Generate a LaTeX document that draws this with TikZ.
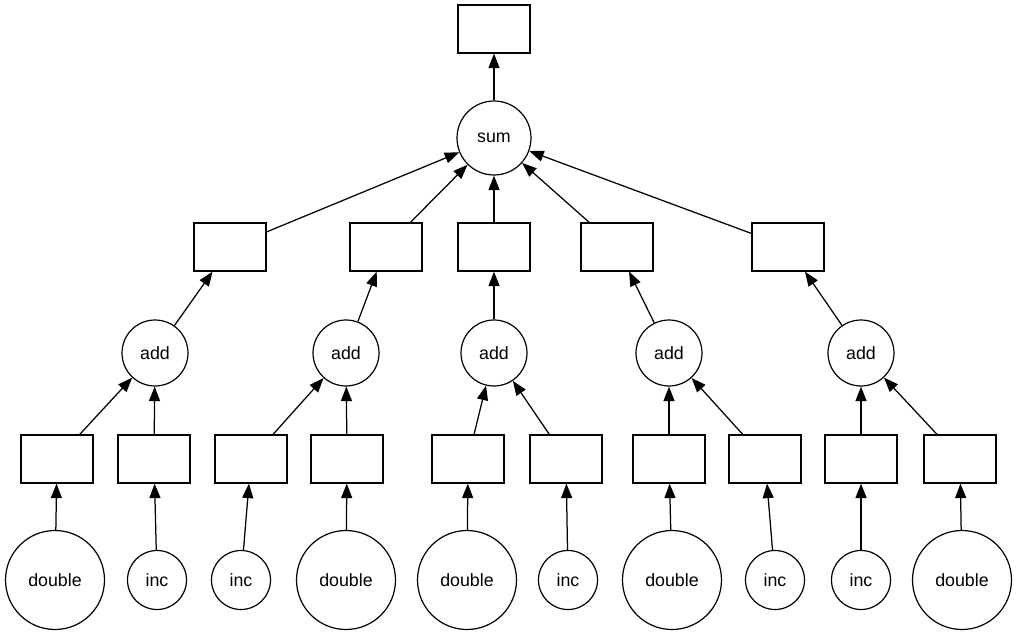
\documentclass[tikz,border=0pt]{standalone}
\usepackage{fontspec}
\setmainfont{Liberation Sans}
\usetikzlibrary{arrows.meta}
\tikzset{
  bx/.style={rectangle,draw=black,fill=white,minimum width=72pt,minimum height=48pt,inner sep=0pt,line width=1.2pt},
  fn/.style={circle,draw=black,fill=white,inner sep=0pt,line width=1.2pt,font=\fontsize{17.8}{21}\selectfont},
  big/.style={fn,minimum size=99pt},
  sml/.style={fn,minimum size=59pt},
  mid/.style={fn,minimum size=66pt},
  top/.style={fn,minimum size=74pt},
  dep/.style={-{Triangle[length=14.5pt,width=11pt]},line width=1.25pt,draw=black},
}
\begin{document}
\begin{tikzpicture}[x=1pt,y=-1pt]
\useasboundingbox (0,0) rectangle (1017,636);
% result and reduction
\node[bx] (out) at (494,29) {};
\node[top] (sum) at (494,138) {sum};
% partial sums
\node[bx] (r1) at (230,247) {}; \node[bx] (r2) at (386,247) {};
\node[bx] (r3) at (494,247) {}; \node[bx] (r4) at (617,247) {};
\node[bx] (r5) at (788,247) {};
\node[mid] (a1) at (155,353) {add}; \node[mid] (a2) at (346,353) {add};
\node[mid] (a3) at (494,353) {add}; \node[mid] (a4) at (669,353) {add};
\node[mid] (a5) at (861,353) {add};
% intermediate results
\node[bx] (b1) at (57,459) {};  \node[bx] (b2) at (154,459) {};
\node[bx] (b3) at (251,459) {}; \node[bx] (b4) at (347,459) {};
\node[bx] (b5) at (468,459) {}; \node[bx] (b6) at (566,459) {};
\node[bx] (b7) at (669,459) {}; \node[bx] (b8) at (765,459) {};
\node[bx] (b9) at (861,459) {}; \node[bx] (b10) at (960,459) {};
% leaves
\node[big] (l1) at (55,580) {double};  \node[sml] (l2) at (157,580) {inc};
\node[sml] (l3) at (241,580) {inc};    \node[big] (l4) at (346,580) {double};
\node[big] (l5) at (467,580) {double}; \node[sml] (l6) at (568,580) {inc};
\node[big] (l7) at (672,580) {double}; \node[sml] (l8) at (775,580) {inc};
\node[sml] (l9) at (861,580) {inc};    \node[big] (l10) at (962,580) {double};
\foreach \i in {1,...,10}{\draw[dep] (l\i) -- (b\i);}
\draw[dep] (b1) -- (a1); \draw[dep] (b2) -- (a1);
\draw[dep] (b3) -- (a2); \draw[dep] (b4) -- (a2);
\draw[dep] (b5) -- (a3); \draw[dep] (b6) -- (a3);
\draw[dep] (b7) -- (a4); \draw[dep] (b8) -- (a4);
\draw[dep] (b9) -- (a5); \draw[dep] (b10) -- (a5);
\foreach \i in {1,...,5}{\draw[dep] (a\i) -- (r\i); \draw[dep] (r\i) -- (sum);}
\draw[dep] (sum) -- (out);
\end{tikzpicture}
\end{document}
